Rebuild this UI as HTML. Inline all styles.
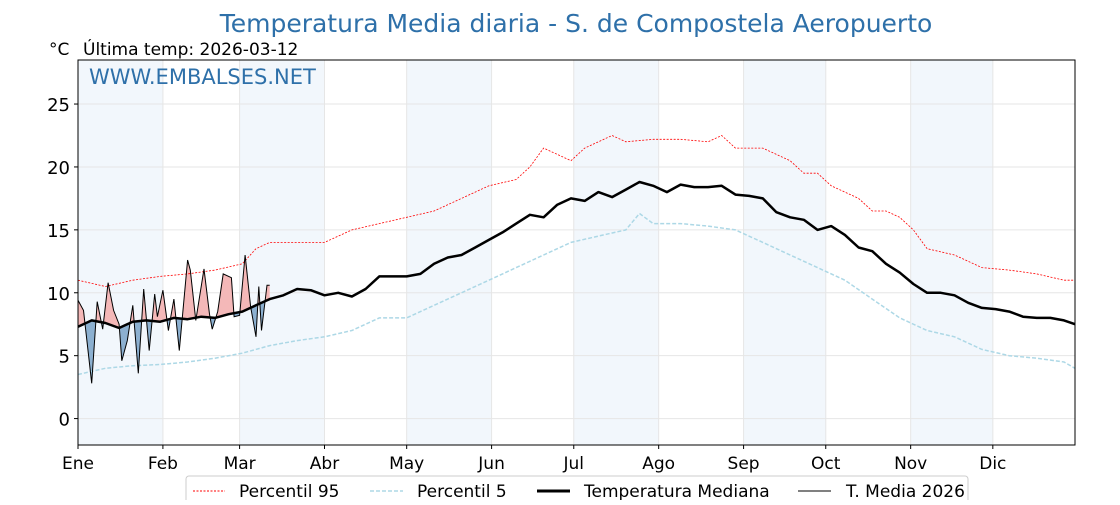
<!DOCTYPE html>
<html><head><meta charset="utf-8"><style>
body{margin:0;background:#fff;font-family:"Liberation Sans","DejaVu Sans",sans-serif}
svg text{font-family:"DejaVu Sans","Liberation Sans",sans-serif}
</style></head><body>
<svg id="c" width="1120" height="500" xmlns="http://www.w3.org/2000/svg">
<text x="576" y="32" text-anchor="middle" font-size="25" fill="#2e70a9">Temperatura Media diaria - S. de Compostela Aeropuerto</text>
<text x="49" y="55" font-size="17" fill="#000">°C</text>
<text x="83" y="55" font-size="17" fill="#000">Última temp: 2026-03-12</text>
<g id="plot"></g>
<text x="89" y="84" font-size="21" fill="#2e70a9">WWW.EMBALSES.NET</text>
<g>
<rect x="186" y="476" width="782" height="30" rx="3" fill="#fff" stroke="#ccc"/>
<line x1="193" y1="491" x2="225" y2="491" stroke="red" stroke-width="1" stroke-dasharray="2,1.5"/>
<text x="239" y="497" font-size="17">Percentil 95</text>
<line x1="370" y1="491" x2="403" y2="491" stroke="#add8e6" stroke-width="1.5" stroke-dasharray="4,2"/>
<text x="417" y="497" font-size="17">Percentil 5</text>
<line x1="537" y1="491" x2="570" y2="491" stroke="#000" stroke-width="3"/>
<text x="584" y="497" font-size="17">Temperatura Mediana</text>
<line x1="798" y1="491" x2="831" y2="491" stroke="#000" stroke-width="1"/>
<text x="846" y="497" font-size="17">T. Media 2026</text>
</g>
</svg>
<script>
const months=["Ene","Feb","Mar","Abr","May","Jun","Jul","Ago","Sep","Oct","Nov","Dic"];
const monthStart=[0,31,59,90,120,151,181,212,243,273,304,334];
const yTicks=[0,5,10,15,20,25];
const medianDays=[0,5,10,15,20,25,30,35,40,45,50,55,60,65,70,75,80,85,90,95,100,105,110,115,120,125,130,135,140,145,150,155,160,165,170,175,180,185,190,195,200,205,210,215,220,225,230,235,240,245,250,255,260,265,270,275,280,285,290,295,300,305,310,315,320,325,330,335,340,345,350,355,360,364];
const medianVals=[7.3,7.8,7.6,7.2,7.7,7.8,7.7,8.0,7.9,8.1,8.0,8.3,8.5,9.0,9.5,9.8,10.3,10.2,9.8,10.0,9.7,10.3,11.3,11.3,11.3,11.5,12.3,12.8,13.0,13.6,14.2,14.8,15.5,16.2,16.0,17.0,17.5,17.3,18.0,17.6,18.2,18.8,18.5,18.0,18.6,18.4,18.4,18.5,17.8,17.7,17.5,16.4,16.0,15.8,15.0,15.3,14.6,13.6,13.3,12.3,11.6,10.7,10.0,10.0,9.8,9.2,8.8,8.7,8.5,8.1,8.0,8.0,7.8,7.5];
const p95Days=[0,10,20,30,40,50,60,65,70,80,90,100,110,120,130,140,150,160,165,170,175,180,185,190,195,200,210,220,230,235,240,250,255,260,265,270,275,280,285,290,295,300,305,310,320,330,340,350,360,364];
const p95Vals=[11,10.5,11,11.3,11.5,11.8,12.3,13.5,14,14,14,15,15.5,16,16.5,17.5,18.5,19,20,21.5,21,20.5,21.5,22,22.5,22,22.2,22.2,22,22.5,21.5,21.5,21,20.5,19.5,19.5,18.5,18,17.5,16.5,16.5,16,15,13.5,13,12,11.8,11.5,11,11];
const p5Days=[0,10,20,30,40,50,60,70,80,90,100,110,120,130,140,150,160,170,180,190,200,205,210,220,230,240,250,260,270,280,290,300,310,320,330,340,350,360,364];
const p5Vals=[3.5,4,4.2,4.3,4.5,4.8,5.2,5.8,6.2,6.5,7,8,8,9,10,11,12,13,14,14.5,15,16.3,15.5,15.5,15.3,15,14,13,12,11,9.5,8,7,6.5,5.5,5,4.8,4.5,4];
const t26Days=[0,2,5,7,9,11,13,15,16,18,20,22,24,26,28,29,31,33,35,37,40,41,43,46,48,49,51,53,56,57,59,61,63,65,66,67,69,70];
const t26Vals=[9.4,8.6,2.8,9.3,7.1,10.8,8.6,7.5,4.6,6.2,9.0,3.6,10.3,5.4,9.9,8.1,10.2,7.0,9.5,5.4,12.6,11.8,7.8,11.9,8.3,7.1,8.5,11.5,11.2,8.1,8.2,13.0,8.9,6.5,10.5,7.0,10.6,10.6];

const X0=78,X1=1075,Y0=60,Y1=445,DMAX=364,VMIN=-2.1,VMAX=28.5;
const xs=d=>X0+(d/DMAX)*(X1-X0);
const ys=v=>Y1-(v-VMIN)/(VMAX-VMIN)*(Y1-Y0);
const NS="http://www.w3.org/2000/svg";
const plot=document.getElementById('plot');
function mk(tag,attrs,parent){const e=document.createElementNS(NS,tag);for(const k in attrs)e.setAttribute(k,attrs[k]);(parent||plot).appendChild(e);return e;}
const pts=(D,V)=>D.map((d,i)=>xs(d).toFixed(1)+","+ys(V[i]).toFixed(1)).join(" ");

mk('rect',{x:X0,y:Y0,width:X1-X0,height:Y1-Y0,fill:'#fff'});
for(let i=0;i<12;i+=2){const a=monthStart[i],b=i+1<12?monthStart[i+1]:DMAX;
 const r=mk('rect',{x:xs(a),y:Y0,width:xs(b)-xs(a),height:Y1-Y0,fill:'#f2f7fc'});
 
 }
yTicks.forEach(t=>{mk('line',{x1:X0,x2:X1,y1:ys(t),y2:ys(t),stroke:'#e6e6e6','stroke-width':1});
 mk('line',{x1:X0-4,x2:X0,y1:ys(t),y2:ys(t),stroke:'#000'});
 const tx=mk('text',{x:X0-8,y:ys(t)+7,'text-anchor':'end','font-size':18});tx.textContent=t;
 
 });
months.forEach((m,i)=>{const x=xs(monthStart[i]);
 mk('line',{x1:x,x2:x,y1:Y0,y2:Y1,stroke:'#e6e6e6'});
 mk('line',{x1:x,x2:x,y1:Y1,y2:Y1+4,stroke:'#000'});
 const tx=mk('text',{x:x,y:Y1+24,'text-anchor':'middle','font-size':17});tx.textContent=m;
 
 });

const defs=mk('defs',{});
const medPts=pts(medianDays,medianVals);
const cpA=mk('clipPath',{id:'above'},defs);
mk('polygon',{points:xs(0)+","+Y0+" "+medPts+" "+xs(DMAX)+","+Y0},cpA);
const cpB=mk('clipPath',{id:'below'},defs);
mk('polygon',{points:xs(0)+","+Y1+" "+medPts+" "+xs(DMAX)+","+Y1},cpB);
const tp=pts(t26Days,t26Vals);
const xf=xs(t26Days[0]),xl=xs(t26Days[t26Days.length-1]);
const red=mk('polygon',{points:xf+","+Y1+" "+tp+" "+xl+","+Y1,fill:'#f4b8b8','clip-path':'url(#above)'});


const blue=mk('polygon',{points:xf+","+Y0+" "+tp+" "+xl+","+Y0,fill:'#8cb0d0','clip-path':'url(#below)'});



const l95=mk('polyline',{points:pts(p95Days,p95Vals),fill:'none',stroke:'red','stroke-width':0.8,'stroke-dasharray':'2,1.5'});


const l5=mk('polyline',{points:pts(p5Days,p5Vals),fill:'none',stroke:'#add8e6','stroke-width':1.5,'stroke-dasharray':'4,2'});


const lm=mk('polyline',{points:medPts,fill:'none',stroke:'#000','stroke-width':2.5,'stroke-linejoin':'round'});


const l26=mk('polyline',{points:tp,fill:'none',stroke:'#000','stroke-width':1});


mk('rect',{x:X0,y:Y0,width:X1-X0,height:Y1-Y0,fill:'none',stroke:'#000','stroke-width':1});
</script>
</body></html>
